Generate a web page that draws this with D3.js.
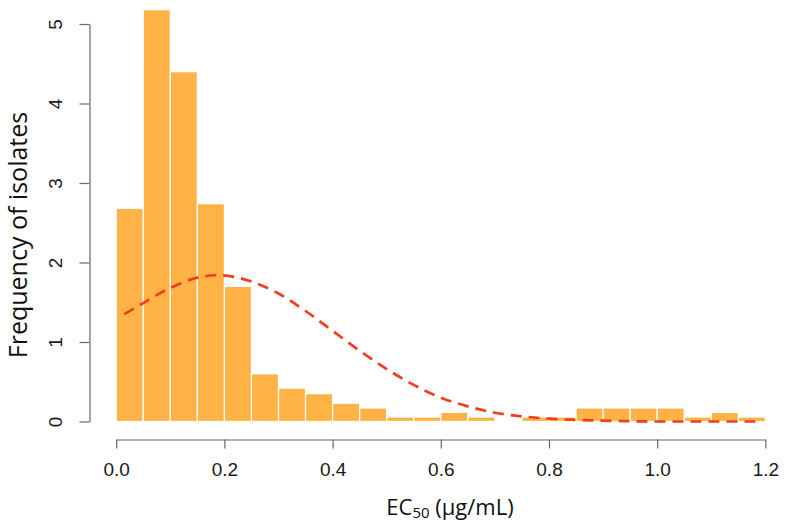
<!DOCTYPE html>
<html>
<head>
<meta charset="utf-8">
<script src="https://cdn.jsdelivr.net/npm/d3@7"></script>
<style>
  body { margin: 0; background: #fff; }
  svg { display: block; }
</style>
</head>
<body>
<div id="chart"></div>
<script>
// histogram bins (EC50, width 0.05) and density heights
const binStarts = [0.00, 0.05, 0.10, 0.15, 0.20, 0.25, 0.30, 0.35, 0.40, 0.45, 0.50, 0.55,
                   0.60, 0.65, 0.70, 0.75, 0.80, 0.85, 0.90, 0.95, 1.00, 1.05, 1.10, 1.15];
const binHeights = [2.68, 5.18, 4.40, 2.74, 1.70, 0.60, 0.42, 0.35, 0.23, 0.17, 0.057, 0.057,
                    0.115, 0.057, 0, 0.057, 0.057, 0.17, 0.17, 0.17, 0.17, 0.057, 0.115, 0.057];
const binWidth = 0.05;

// dashed fitted curve
const curveX = [0.015, 0.05, 0.10, 0.15, 0.19, 0.25, 0.30, 0.35, 0.40, 0.45, 0.50, 0.55,
                0.60, 0.65, 0.70, 0.75, 0.80, 0.85, 0.90, 0.95, 1.00, 1.10, 1.195];
const curveY = [1.35, 1.49, 1.68, 1.81, 1.84, 1.76, 1.61, 1.39, 1.14, 0.89, 0.66, 0.46,
                0.30, 0.19, 0.11, 0.065, 0.035, 0.02, 0.01, 0.004, 0.0, 0.0, 0.0];

const xTicks = [0, 0.2, 0.4, 0.6, 0.8, 1.0, 1.2];
const yTicks = [0, 1, 2, 3, 4, 5];

const W = 790, H = 528;
const svg = d3.select("#chart").append("svg")
    .attr("width", W)
    .attr("height", H);

const x = d3.scaleLinear().domain([0, 1.2]).range([116.2, 765.4]);
const y = d3.scaleLinear().domain([0, 5]).range([421.5, 24]);

const bins = binStarts.map((s, i) => ({ x0: s, x1: s + binWidth, h: binHeights[i] }));

svg.append("g")
    .selectAll("rect")
    .data(bins.filter(d => d.h > 0))
    .enter()
    .append("rect")
    .attr("x", d => x(d.x0))
    .attr("y", d => y(d.h))
    .attr("width", d => x(d.x1) - x(d.x0))
    .attr("height", d => y(0) - y(d.h))
    .attr("fill", "#FFB347")
    .attr("stroke", "#fff")
    .attr("stroke-width", 1.2);

const line = d3.line()
    .x(d => x(d[0]))
    .y(d => y(d[1]))
    .curve(d3.curveMonotoneX);

svg.append("path")
    .datum(curveX.map((v, i) => [v, curveY[i]]))
    .attr("d", line)
    .attr("fill", "none")
    .attr("stroke", "#F03E1E")
    .attr("stroke-width", 2.7)
    .attr("stroke-dasharray", "11,7");

// x axis
const xAxis = svg.append("g")
    .attr("transform", "translate(0,439.5)")
    .call(d3.axisBottom(x)
        .tickValues(xTicks)
        .tickFormat(d3.format(".1f"))
        .tickSize(9)
        .tickSizeOuter(0)
        .tickPadding(14));

// y axis
const yAxis = svg.append("g")
    .attr("transform", "translate(89.5,0)")
    .call(d3.axisLeft(y)
        .tickValues(yTicks)
        .tickFormat(d3.format("d"))
        .tickSize(10)
        .tickSizeOuter(0));

yAxis.selectAll(".tick text")
    .attr("transform", "rotate(-90)")
    .attr("x", 0)
    .attr("y", -27.5)
    .attr("dy", 0)
    .style("text-anchor", "middle");

svg.selectAll(".domain, .tick line")
    .attr("stroke", "#666")
    .attr("stroke-width", 1.2);

svg.selectAll(".tick text")
    .attr("fill", "#1a1a1a")
    .style("font-family", "'Liberation Sans', Arial, sans-serif")
    .style("font-size", "19px");

// axis titles
const xTitle = svg.append("text")
    .attr("x", 450)
    .attr("y", 515)
    .attr("text-anchor", "middle")
    .attr("fill", "#111")
    .style("font-family", "'Open Sans', sans-serif")
    .style("font-size", "22px");
xTitle.append("tspan").text("EC");
xTitle.append("tspan").attr("dy", 3).style("font-size", "15px").text("50");
xTitle.append("tspan").attr("dy", -3).text(" (µg/mL)");

svg.append("text")
    .attr("transform", "translate(27,235) rotate(-90)")
    .attr("text-anchor", "middle")
    .attr("fill", "#111")
    .style("font-family", "'Open Sans', sans-serif")
    .style("font-size", "25px")
    .text("Frequency of isolates");
</script>
</body>
</html>
